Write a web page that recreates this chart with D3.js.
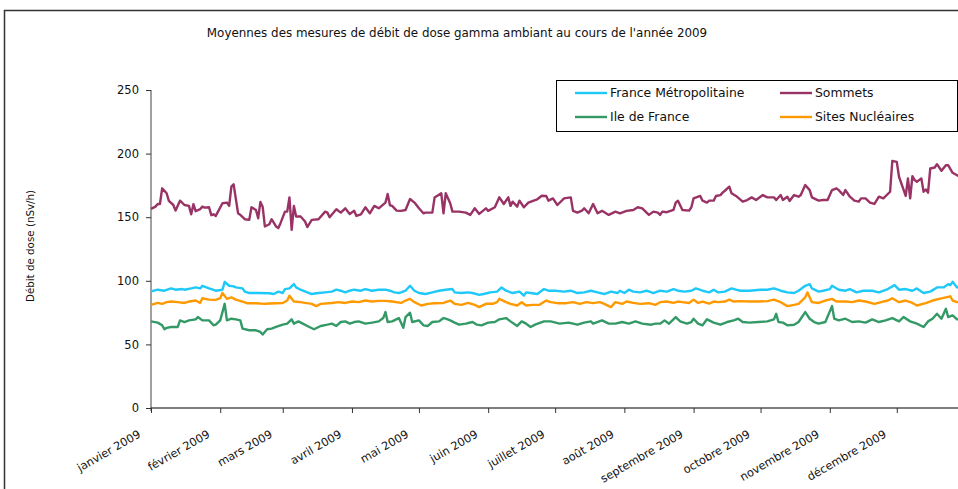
<!DOCTYPE html>
<html><head><meta charset="utf-8">
<script src="https://cdn.jsdelivr.net/npm/d3@7"></script>
<style>
body{margin:0;background:#fff;}
svg{display:block;font-family:"DejaVu Sans",Verdana,sans-serif;}
</style>
</head><body>
<svg id="c" width="958" height="489"></svg>
<script>
const chartTitle = "Moyennes des mesures de débit de dose gamma ambiant au cours de l'année 2009";
const yLabel = "Débit de dose (nSv/h)";
const monthLabels = ["janvier 2009","février 2009","mars 2009","avril 2009","mai 2009","juin 2009","juillet 2009","août 2009","septembre 2009","octobre 2009","novembre 2009","décembre 2009"];
const yTicks = [0,50,100,150,200,250];
const seriesNames = ["France Métropolitaine","Sommets","Ile de France","Sites Nucléaires"];
const seriesColors = ["#1ec8f8","#993366","#339966","#ff9900"];

// [day of year (0 = 1 janvier), value nSv/h]
const franceMetro = [[0,91.7],[3,93.0],[6,92.2],[9,94.0],[11,93.0],[14,93.5],[15,93.0],[18,94.0],[20,94.8],[22,94.0],[23,96.1],[26,94.0],[29,92.2],[32,93.0],[33,99.2],[35,96.1],[37,95.6],[38,94.8],[41,94.0],[42,91.5],[44,90.4],[48,90.4],[53,90.2],[55,89.6],[57,91.5],[59,90.4],[60,93.5],[62,94.0],[64,97.4],[65,94.8],[67,93.0],[70,90.9],[72,89.6],[75,90.4],[78,90.9],[81,91.5],[83,93.0],[85,92.2],[87,90.9],[89,92.2],[91,93.0],[94,92.2],[96,93.5],[99,92.2],[102,93.0],[105,93.0],[107,92.2],[109,90.9],[111,90.4],[112,90.9],[114,92.2],[116,96.1],[118,92.2],[120,90.4],[123,89.6],[126,90.9],[129,92.2],[132,93.0],[135,93.5],[136,90.9],[139,90.4],[142,90.9],[144,90.4],[147,88.9],[149,89.6],[152,90.9],[155,91.5],[157,94.8],[159,92.2],[162,90.4],[165,91.5],[167,88.3],[168,90.9],[170,90.4],[173,89.6],[176,93.5],[178,92.2],[181,92.2],[185,91.5],[188,92.2],[191,90.4],[194,90.9],[197,92.2],[200,90.9],[203,89.6],[206,91.5],[209,90.4],[210,92.2],[212,90.4],[214,93.0],[216,91.5],[219,90.9],[222,92.2],[225,90.4],[228,92.2],[231,91.5],[234,93.5],[236,92.2],[239,91.5],[242,92.2],[244,94.0],[247,92.2],[250,90.9],[252,93.0],[254,90.9],[257,91.5],[260,94.0],[262,93.0],[264,92.2],[268,92.2],[273,93.0],[276,93.0],[279,94.0],[282,92.2],[285,90.9],[288,90.4],[290,92.2],[293,96.1],[295,97.4],[296,94.0],[299,91.5],[301,92.2],[304,93.5],[305,96.1],[308,93.0],[311,92.2],[313,93.5],[316,90.9],[319,92.2],[323,92.2],[326,90.9],[330,93.5],[333,96.6],[335,93.0],[338,93.5],[341,92.2],[343,94.0],[346,90.4],[349,91.5],[352,94.8],[355,94.8],[357,97.4],[358,96.6],[359,99.2],[361,94.8],[363,94.5]];

const sommets = [[0,156.5],[2,158.3],[3,160.4],[4,160.4],[5,172.7],[7,168.8],[8,162.8],[10,159.6],[11,155.2],[13,163.0],[15,159.6],[17,158.9],[18,152.3],[19,160.2],[20,154.7],[22,156.3],[23,158.3],[24,157.5],[26,157.8],[27,151.6],[28,152.3],[29,151.0],[32,161.0],[34,161.5],[35,158.9],[36,174.0],[37,175.8],[39,153.1],[40,151.8],[42,148.4],[44,147.9],[45,157.8],[47,155.7],[48,149.2],[49,162.0],[50,158.3],[51,142.7],[53,144.5],[54,148.4],[56,142.7],[57,141.4],[58,145.3],[60,154.4],[61,154.4],[62,165.6],[63,140.1],[64,158.9],[65,150.5],[67,150.5],[69,146.6],[70,142.2],[72,147.9],[75,148.4],[78,154.4],[79,153.6],[80,150.0],[83,156.3],[85,153.6],[87,157.0],[89,152.6],[91,155.0],[92,151.0],[94,152.3],[96,157.8],[98,153.1],[100,158.9],[102,157.0],[105,161.5],[106,168.2],[107,159.4],[108,158.9],[110,155.2],[112,155.0],[114,155.7],[116,164.3],[118,161.5],[120,157.0],[122,153.1],[123,153.6],[126,153.6],[127,165.4],[130,168.8],[131,153.1],[132,168.8],[134,161.0],[135,154.4],[138,154.4],[141,153.6],[143,151.8],[145,157.0],[147,152.6],[150,157.0],[151,155.0],[154,157.8],[156,165.6],[158,160.4],[160,165.6],[161,158.9],[162,162.2],[164,158.3],[165,163.0],[167,157.8],[169,161.5],[172,163.5],[173,164.1],[175,166.9],[177,166.7],[178,163.0],[180,164.8],[182,159.6],[185,164.8],[188,165.6],[189,155.0],[191,153.6],[193,155.2],[194,157.0],[196,153.1],[198,160.4],[200,153.1],[202,155.0],[205,151.8],[208,154.4],[210,153.1],[213,155.0],[216,155.7],[218,157.8],[220,157.0],[223,151.8],[225,154.4],[227,153.6],[228,151.8],[229,154.4],[231,153.9],[234,155.7],[235,161.5],[236,163.0],[238,155.7],[241,155.2],[242,157.8],[243,164.8],[246,166.7],[247,163.0],[249,161.5],[250,163.0],[252,163.0],[253,166.7],[255,167.4],[256,169.3],[257,170.8],[259,174.0],[260,168.8],[262,166.7],[265,162.2],[267,163.5],[269,165.6],[271,163.5],[274,167.4],[276,165.6],[279,165.6],[280,163.5],[282,167.4],[283,163.5],[285,166.1],[286,162.8],[288,167.4],[290,166.1],[291,167.4],[292,171.3],[293,175.3],[295,171.3],[296,165.6],[299,163.0],[301,163.5],[303,163.5],[305,171.3],[307,172.7],[308,171.3],[310,167.4],[311,171.3],[313,166.1],[315,163.0],[317,162.2],[318,164.8],[320,164.8],[322,161.5],[324,160.4],[326,166.1],[328,164.8],[331,170.0],[332,194.3],[334,193.5],[335,181.8],[338,166.7],[339,180.5],[340,164.8],[341,182.3],[342,179.2],[343,177.9],[345,180.5],[346,170.0],[347,171.8],[348,169.3],[349,188.3],[351,189.1],[352,191.7],[354,186.5],[356,190.9],[357,190.9],[359,184.9],[361,183.0],[362,182.0],[364,180.5]];

const ileDeFrance = [[0,68.1],[3,67.1],[5,65.0],[6,61.9],[7,63.0],[9,63.7],[12,63.7],[13,68.9],[15,67.6],[17,68.9],[20,69.7],[21,71.5],[23,68.9],[26,68.9],[28,65.0],[29,65.5],[31,68.9],[33,81.9],[34,68.9],[36,70.2],[38,69.7],[40,68.9],[41,62.4],[44,61.1],[47,61.1],[49,59.8],[50,57.8],[52,61.9],[54,62.4],[56,63.7],[59,65.5],[61,66.3],[63,69.7],[64,66.3],[66,68.1],[68,66.3],[70,64.5],[73,61.9],[76,64.5],[79,65.5],[81,66.3],[83,64.5],[85,67.6],[87,68.1],[89,66.3],[91,67.6],[93,68.1],[96,66.3],[99,67.1],[102,68.1],[104,70.7],[105,75.4],[106,67.6],[108,68.1],[111,70.7],[113,63.0],[114,71.5],[116,74.9],[117,67.6],[120,68.9],[122,65.0],[124,64.5],[126,67.6],[129,68.1],[131,70.7],[132,70.2],[134,68.9],[136,67.1],[138,65.5],[141,66.3],[144,67.6],[146,65.5],[148,65.0],[151,67.1],[154,67.6],[156,69.7],[159,70.7],[161,68.1],[164,64.5],[166,68.1],[168,66.3],[170,63.7],[172,65.5],[176,68.1],[179,68.1],[183,66.3],[187,67.1],[191,65.5],[194,67.1],[197,68.1],[198,66.3],[202,68.9],[205,66.3],[208,66.3],[211,67.6],[214,66.3],[217,68.1],[220,66.3],[224,65.5],[226,66.3],[228,66.3],[230,68.9],[232,66.3],[235,71.5],[237,68.1],[240,66.3],[242,67.6],[243,70.2],[245,66.3],[247,65.0],[249,69.7],[252,67.1],[255,65.5],[258,67.6],[261,68.9],[263,70.2],[265,67.6],[268,67.1],[272,67.6],[276,68.1],[279,69.7],[280,74.1],[281,67.6],[283,67.1],[285,65.0],[288,65.5],[290,67.6],[293,75.4],[295,70.2],[297,67.6],[299,66.3],[302,67.6],[305,80.1],[306,70.2],[308,68.9],[311,70.2],[314,67.6],[317,68.1],[320,67.1],[323,69.7],[326,67.6],[329,68.9],[332,70.7],[335,68.1],[337,71.5],[340,68.1],[343,66.3],[346,63.7],[348,68.1],[350,70.2],[352,74.1],[354,70.2],[356,78.0],[357,71.5],[359,72.8],[361,69.7],[363,69.5]];

const sitesNucleaires = [[0,81.1],[3,82.6],[5,81.9],[7,83.2],[9,83.7],[12,83.2],[15,82.6],[17,83.7],[20,84.5],[22,82.6],[23,86.3],[26,85.2],[29,85.0],[31,86.3],[32,90.4],[34,85.8],[36,87.0],[38,85.2],[41,83.7],[43,82.4],[47,82.4],[51,81.9],[56,82.4],[59,82.6],[61,84.5],[62,88.3],[64,83.7],[67,83.2],[69,82.6],[72,81.9],[74,80.1],[76,81.9],[81,82.6],[84,83.2],[87,82.6],[90,83.7],[93,83.2],[96,84.5],[99,83.7],[102,84.2],[105,84.2],[108,83.7],[112,82.6],[114,84.5],[116,85.8],[118,83.2],[121,80.6],[124,81.9],[127,82.4],[131,82.6],[134,84.5],[136,81.9],[139,81.1],[142,82.6],[145,81.1],[147,79.3],[150,81.9],[153,81.9],[155,83.2],[156,85.8],[159,83.2],[161,81.9],[164,80.6],[166,83.2],[168,80.6],[171,81.1],[174,81.1],[177,84.5],[179,83.2],[182,82.4],[186,82.4],[189,83.2],[192,81.9],[195,83.2],[198,82.4],[201,83.2],[203,81.9],[206,79.3],[208,83.2],[211,81.9],[213,83.7],[216,82.6],[219,81.9],[223,82.4],[226,81.1],[228,83.2],[231,83.7],[234,82.6],[236,83.7],[238,83.2],[241,82.6],[243,85.2],[245,82.6],[247,83.7],[250,82.1],[252,83.7],[254,83.2],[257,83.7],[259,85.2],[261,83.7],[264,84.0],[268,83.7],[272,83.7],[276,84.0],[279,85.2],[282,83.2],[285,80.1],[288,81.1],[290,81.9],[293,87.0],[294,90.9],[296,83.2],[299,82.6],[302,84.5],[305,85.8],[307,83.7],[311,83.7],[314,83.2],[317,84.5],[320,83.7],[324,81.9],[327,83.2],[330,84.5],[332,86.3],[335,83.2],[338,84.5],[341,82.6],[343,80.6],[347,82.4],[350,84.5],[353,85.8],[356,87.0],[358,87.8],[359,84.5],[361,83.2],[363,83.5]];

const seriesData = [franceMetro, sommets, ileDeFrance, sitesNucleaires];

const svg = d3.select("#c");
const W = 958, H = 489;
const plot = {left:151, top:90, bottom:408, right:966};

// outer frame
svg.append("path").attr("d", `M4.5,${H} V10.5 H${W}`).attr("fill","none").attr("stroke","#333").attr("stroke-width",1.5);

const dayToDate = d => new Date(2009, 0, 1 + d);
const x = d3.scaleTime().domain([new Date(2009,0,1), new Date(2010,0,1)]).range([plot.left, plot.right]);
const y = d3.scaleLinear().domain([0,250]).range([plot.bottom, plot.top]);

// title
svg.append("text").attr("x",457).attr("y",37).attr("text-anchor","middle")
  .attr("font-size","11.9px").attr("fill","#111").text(chartTitle);

// y axis
const yAxis = svg.append("g").attr("transform",`translate(${plot.left},0)`)
  .call(d3.axisLeft(y).tickValues(yTicks).tickSize(5).tickPadding(7).tickFormat(d3.format("d")));
yAxis.select(".domain").attr("stroke","#808080").attr("stroke-width",1.5).attr("d",`M0,${plot.top}V${plot.bottom+3}`);
yAxis.selectAll(".tick line").attr("stroke","#333");
yAxis.selectAll("text").attr("font-size","11.5px").attr("fill","#111").attr("font-family","DejaVu Sans, sans-serif");

// y label
svg.append("text").attr("transform","translate(34,246) rotate(-90)").attr("text-anchor","middle")
  .attr("font-size","10.3px").attr("fill","#111").text(yLabel);

// x axis
const monthStarts = d3.range(12).map(m => new Date(2009, m, 1));
const xAxis = svg.append("g").attr("transform",`translate(0,${plot.bottom})`)
  .call(d3.axisBottom(x).tickValues(monthStarts).tickSize(5).tickFormat((d,i) => monthLabels[i]));
xAxis.select(".domain").attr("stroke","#000").attr("stroke-width",1.2).attr("d",`M${plot.left},0H${plot.right}`);
xAxis.selectAll(".tick line").attr("stroke","#333");
xAxis.selectAll("text")
  .attr("font-size","11.3px").attr("fill","#111").attr("font-family","DejaVu Sans, sans-serif")
  .attr("text-anchor","end").attr("y",0).attr("dy","0.35em")
  .attr("transform", function(){ return "translate(-12,25) rotate(-30)"; });

// lines
const line = d3.line().x(p => x(dayToDate(p[0]))).y(p => y(p[1]));
const drawOrder = [1,0,3,2];
drawOrder.forEach(i => {
  svg.append("path").datum(seriesData[i]).attr("d", line)
    .attr("fill","none").attr("stroke", seriesColors[i]).attr("stroke-width",2.4)
    .attr("stroke-linejoin","round");
});

// legend
const lg = svg.append("g");
lg.append("rect").attr("x",556.5).attr("y",80.5).attr("width",401).attr("height",51)
  .attr("fill","#fff").attr("stroke","#000").attr("stroke-width",1);
const legendPos = [[575,93],[780,93],[575,117],[780,117]];
seriesNames.forEach((name,i) => {
  const [lx,ly] = legendPos[i];
  lg.append("line").attr("x1",lx).attr("x2",lx+32).attr("y1",ly).attr("y2",ly)
    .attr("stroke",seriesColors[i]).attr("stroke-width",2.4);
  lg.append("text").attr("x",lx+35).attr("y",ly).attr("dy","0.35em")
    .attr("font-size","12.4px").attr("fill","#111").text(name);
});
</script>
</body></html>
